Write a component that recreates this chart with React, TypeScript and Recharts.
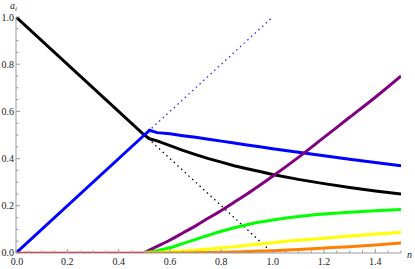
import React from 'react';
import { LineChart, Line, XAxis, YAxis } from 'recharts';

// common n grid; series values line up with it (null = not drawn there)
const nGrid = [0, 0.5, 0.52, 0.55, 0.6, 0.65, 0.7, 0.75, 0.8, 0.85, 0.9, 0.95, 1.0, 1.1, 1.2, 1.3, 1.4, 1.5];

const blackVals = [1.0, 0.5, 0.484, 0.475, 0.455, 0.435, 0.417, 0.4, 0.385, 0.37, 0.357, 0.345, 0.333, 0.312, 0.294, 0.278, 0.263, 0.25];
const blueVals = [0, 0.5, 0.52, 0.51, 0.505, 0.497, 0.49, 0.482, 0.474, 0.466, 0.458, 0.45, 0.442, 0.427, 0.412, 0.397, 0.383, 0.37];
const redVals = [0, 0, null, null, null, null, null, null, null, null, null, null, null, null, null, null, null, null];
const purpleVals = [null, 0, 0.012, 0.028, 0.055, 0.085, 0.115, 0.148, 0.18, 0.215, 0.25, 0.287, 0.325, 0.405, 0.49, 0.575, 0.66, 0.75];
const greenVals = [null, 0, 0.004, 0.01, 0.022, 0.04, 0.058, 0.075, 0.092, 0.107, 0.12, 0.131, 0.14, 0.155, 0.165, 0.173, 0.179, 0.184];
const yellowVals = [null, 0, 0.001, 0.002, 0.005, 0.008, 0.012, 0.017, 0.022, 0.027, 0.033, 0.038, 0.044, 0.054, 0.063, 0.072, 0.08, 0.088];
const orangeVals = [null, 0, 0, 0, 0, 0, 0.001, 0.002, 0.003, 0.004, 0.006, 0.008, 0.01, 0.015, 0.021, 0.027, 0.034, 0.042];
const blueDotVals = [null, 0.5, null, null, null, null, null, null, null, null, null, null, 1.0, null, null, null, null, null];
const blackDotVals = [null, 0.5, null, null, null, null, null, null, null, null, null, null, 0, null, null, null, null, null];

const xTicks = [0, 0.05, 0.1, 0.15, 0.2, 0.25, 0.3, 0.35, 0.4, 0.45, 0.5, 0.55, 0.6, 0.65, 0.7, 0.75, 0.8, 0.85, 0.9, 0.95, 1.0, 1.05, 1.1, 1.15, 1.2, 1.25, 1.3, 1.35, 1.4, 1.45, 1.5];
const yTicks = [0, 0.05, 0.1, 0.15, 0.2, 0.25, 0.3, 0.35, 0.4, 0.45, 0.5, 0.55, 0.6, 0.65, 0.7, 0.75, 0.8, 0.85, 0.9, 0.95, 1.0];

const data = nGrid.map((n, i) => ({
  n,
  black: blackVals[i],
  blue: blueVals[i],
  red: redVals[i],
  purple: purpleVals[i],
  green: greenVals[i],
  yellow: yellowVals[i],
  orange: orangeVals[i],
  blueDot: blueDotVals[i],
  blackDot: blackDotVals[i],
}));

const FONT = '"Liberation Serif", "DejaVu Serif", serif';
const AXIS = '#999';

const isMajor = (v: number) => Math.abs(v * 5 - Math.round(v * 5)) < 1e-6;

const XTick = ({ x, y, payload }: any) => {
  const v = payload.value;
  const major = isMajor(v);
  return (
    <g>
      <line x1={x} x2={x} y1={y} y2={y - (major ? 4 : 2.5)} stroke={AXIS} />
      {major && v < 1.5 && (
        <text x={x + (v === 0 ? 1 : 0)} y={y + 12} textAnchor="middle" fontFamily={FONT} fontSize={10} fill="#222">
          {v.toFixed(1)}
        </text>
      )}
    </g>
  );
};

const YTick = ({ x, y, payload }: any) => {
  const v = payload.value;
  const major = isMajor(v);
  return (
    <g>
      <line x1={x} x2={x + (major ? 4 : 2.5)} y1={y} y2={y} stroke={AXIS} />
      {major && (
        <text x={x - 2} y={y + (v === 0 ? 2.5 : 3.5)} textAnchor="end" fontFamily={FONT} fontSize={10} fill="#222">
          {v.toFixed(1)}
        </text>
      )}
    </g>
  );
};

export default function App() {
  return (
    <div style={{ position: 'absolute', left: 0, top: 0, width: 415, height: 269, background: '#fff' }}>
      <LineChart width={415} height={269} data={data} margin={{ top: 17, right: 14, left: 0, bottom: 0 }}>
        <XAxis
          dataKey="n"
          type="number"
          domain={[0, 1.5]}
          ticks={xTicks}
          interval={0}
          height={16}
          tickSize={0}
          tickMargin={0}
          tickLine={false}
          stroke={AXIS}
          tick={<XTick />}
          allowDataOverflow
        />
        <YAxis
          type="number"
          domain={[0, 1]}
          ticks={yTicks}
          interval={0}
          width={16}
          tickSize={0}
          tickMargin={0}
          tickLine={false}
          stroke={AXIS}
          tick={<YTick />}
          allowDataOverflow
        />
        <Line dataKey="blueDot" stroke="#2a2aff" strokeWidth={1.3} strokeDasharray="1.5 3.5" dot={false} connectNulls isAnimationActive={false} />
        <Line dataKey="blackDot" stroke="#000" strokeWidth={1.3} strokeDasharray="1.5 3.5" dot={false} connectNulls isAnimationActive={false} />
        <Line dataKey="black" stroke="#000" strokeWidth={3} dot={false} type="linear" isAnimationActive={false} />
        <Line dataKey="blue" stroke="#0000ff" strokeWidth={3} dot={false} type="linear" isAnimationActive={false} />
        <Line dataKey="red" stroke="#ff0000" strokeWidth={2.5} dot={false} connectNulls type="linear" isAnimationActive={false} />
        <Line dataKey="purple" stroke="#800080" strokeWidth={3} dot={false} type="monotone" isAnimationActive={false} />
        <Line dataKey="green" stroke="#00ff00" strokeWidth={3} dot={false} type="monotone" isAnimationActive={false} />
        <Line dataKey="yellow" stroke="#ffff00" strokeWidth={3} dot={false} type="monotone" isAnimationActive={false} />
        <Line dataKey="orange" stroke="#ff8000" strokeWidth={3} dot={false} type="monotone" isAnimationActive={false} />
      </LineChart>
      <div style={{ position: 'absolute', left: 10, top: 1, lineHeight: '10px', fontFamily: FONT, fontStyle: 'italic', fontSize: 10, color: '#222' }}>
        a<sub style={{ fontSize: 7, verticalAlign: '-2px', lineHeight: '7px' }}>i</sub>
      </div>
      <div style={{ position: 'absolute', left: 407, top: 250, lineHeight: '10px', fontFamily: FONT, fontStyle: 'italic', fontSize: 10, color: '#222' }}>
        n
      </div>
    </div>
  );
}
